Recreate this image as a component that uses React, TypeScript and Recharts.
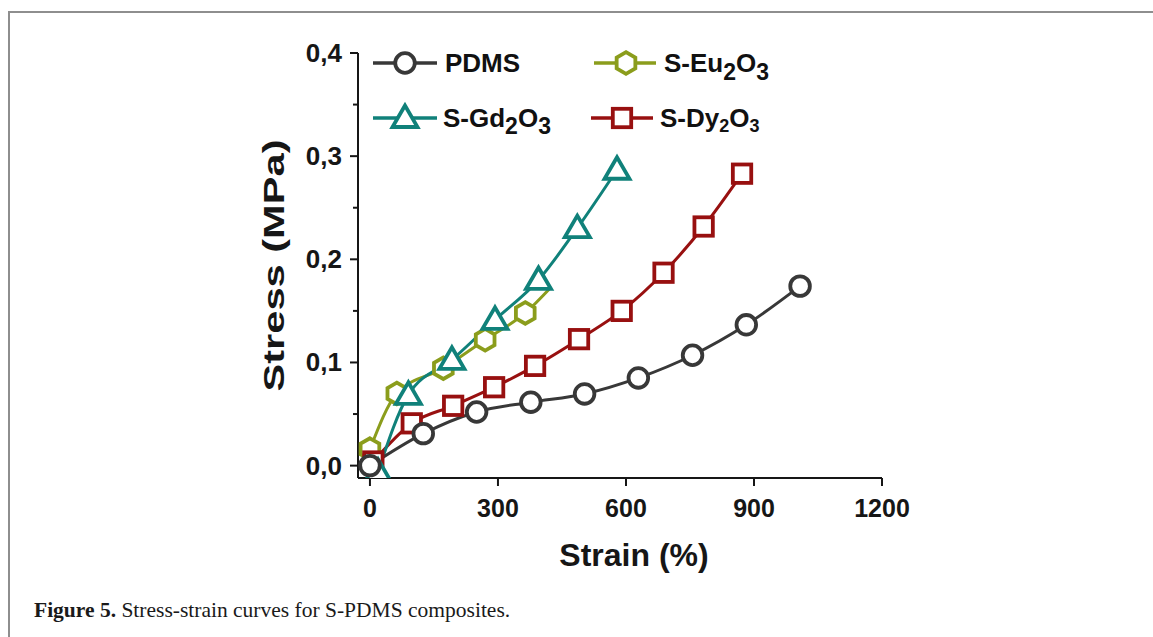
import React from "react";
import { Legend, Line, LineChart, XAxis, YAxis } from "recharts";

// values (strain in %, stress in MPa)
const pdmsStrain = [0, 125, 250, 377, 503, 629, 756, 882, 1008];
const pdmsStress = [0, 0.031, 0.052, 0.0615, 0.0695, 0.085, 0.107, 0.1365, 0.174];

const euStrain = [0, 63, 172, 270, 364, 422];
const euStress = [0.016, 0.07, 0.0945, 0.122, 0.148, 0.172];

const gdStrain = [19, 90, 192, 293, 395, 486, 579];
const gdStress = [-0.006, 0.0686, 0.1025, 0.1413, 0.18, 0.2302, 0.2868];

const dyStrain = [8, 98, 195, 291, 387, 490, 590, 688, 782, 872];
const dyStress = [0.004, 0.041, 0.058, 0.076, 0.0967, 0.1226, 0.15, 0.187, 0.2318, 0.283];

const xTicks = [0, 300, 600, 900, 1200];
const yTicks = [0, 0.05, 0.1, 0.15, 0.2, 0.25, 0.3, 0.35, 0.4];

const FONT = '"Liberation Sans", Arial, Helvetica, sans-serif';
const AXIS = "#161616";

type Shape = "circle" | "hexagon" | "triangle" | "square";
type Part = { t: string; sub?: boolean };

type Series = {
  key: string;
  label: Part[];
  subSize: number;
  subShift: number;
  color: string;
  shape: Shape;
  strain: number[];
  stress: number[];
  hideLast?: boolean;
};

const toPoints = (xs: number[], ys: number[]) => xs.map((x, i) => ({ x, y: ys[i] }));

// draw order: bottom first
const series: Series[] = [
  {
    key: "eu",
    label: [{ t: "S-Eu" }, { t: "2", sub: true }, { t: "O" }, { t: "3", sub: true }],
    subSize: 23,
    subShift: 8,
    color: "#8b9d1c",
    shape: "hexagon",
    strain: euStrain,
    stress: euStress,
    hideLast: true,
  },
  {
    key: "dy",
    label: [{ t: "S-Dy" }, { t: "2", sub: true }, { t: "O" }, { t: "3", sub: true }],
    subSize: 18,
    subShift: 5,
    color: "#981010",
    shape: "square",
    strain: dyStrain,
    stress: dyStress,
  },
  {
    key: "gd",
    label: [{ t: "S-Gd" }, { t: "2", sub: true }, { t: "O" }, { t: "3", sub: true }],
    subSize: 23,
    subShift: 7,
    color: "#10817a",
    shape: "triangle",
    strain: gdStrain,
    stress: gdStress,
  },
  {
    key: "pdms",
    label: [{ t: "PDMS" }],
    subSize: 0,
    subShift: 0,
    color: "#383838",
    shape: "circle",
    strain: pdmsStrain,
    stress: pdmsStress,
  },
];

// legend slots (2 x 2 grid)
const legendSlots: Record<string, { x1: number; x2: number; mx: number; tx: number; y: number }> = {
  pdms: { x1: 373, x2: 437, mx: 405, tx: 445, y: 63 },
  eu: { x1: 594, x2: 656, mx: 626, tx: 664, y: 63 },
  gd: { x1: 373, x2: 437, mx: 405, tx: 443, y: 118 },
  dy: { x1: 591, x2: 653, mx: 622, tx: 660, y: 118 },
};

function Marker({ shape, cx, cy, color }: { shape: Shape; cx: number; cy: number; color: string }) {
  const common = { fill: "#fff", stroke: color, strokeWidth: 3.8, strokeLinejoin: "miter" as const };
  if (shape === "circle") return <circle cx={cx} cy={cy} r={9.8} {...common} />;
  if (shape === "square") return <rect x={cx - 9.2} y={cy - 9.2} width={18.4} height={18.4} {...common} />;
  if (shape === "triangle")
    return <polygon points={`${cx},${cy - 12.5} ${cx - 12.5},${cy + 9} ${cx + 12.5},${cy + 9}`} {...common} />;
  const r = 10.8;
  const pts = [-90, -30, 30, 90, 150, 210]
    .map((a) => `${cx + r * Math.cos((a * Math.PI) / 180)},${cy + r * Math.sin((a * Math.PI) / 180)}`)
    .join(" ");
  return <polygon points={pts} {...common} />;
}

const dotFor = (s: Series) => (props: any) => {
  const { cx, cy, index } = props;
  if (s.hideLast && index === s.strain.length - 1) return <g key={`${s.key}-${index}`} />;
  return (
    <g key={`${s.key}-${index}`}>
      <Marker shape={s.shape} cx={cx} cy={cy} color={s.color} />
    </g>
  );
};

function LegendBox() {
  return (
    <svg width={1153} height={140} style={{ display: "block", fontFamily: FONT }}>
      {series.map((s) => {
        const slot = legendSlots[s.key];
        return (
          <g key={s.key}>
            <line x1={slot.x1} x2={slot.x2} y1={slot.y} y2={slot.y} stroke={s.color} strokeWidth={3.4} />
            <Marker shape={s.shape} cx={slot.mx} cy={slot.y} color={s.color} />
            <text x={slot.tx} y={slot.y + 9} fontSize={26} fontWeight={700} fill="#111">
              {s.label.map((p, i) => {
                const prevSub = i > 0 && s.label[i - 1].sub;
                if (p.sub)
                  return (
                    <tspan key={i} dy={s.subShift} fontSize={s.subSize}>
                      {p.t}
                    </tspan>
                  );
                return (
                  <tspan key={i} dy={prevSub ? -s.subShift : 0}>
                    {p.t}
                  </tspan>
                );
              })}
            </text>
          </g>
        );
      })}
    </svg>
  );
}

function YTick(props: any) {
  const { x, y, payload } = props;
  const axisX = x + 16;
  const v = payload.value as number;
  const major = Math.abs(v * 10 - Math.round(v * 10)) < 1e-6;
  return (
    <g>
      <line x1={axisX - (major ? 8 : 5)} x2={axisX} y1={y} y2={y} stroke={AXIS} strokeWidth={2} />
      {major ? (
        <text x={x} y={y} textAnchor="end" dominantBaseline="central" fontSize={26} fontWeight={700} fill={AXIS}>
          {v.toFixed(1).replace(".", ",")}
        </text>
      ) : null}
    </g>
  );
}

function StressLabel(props: any) {
  const { viewBox } = props;
  const cx = 274;
  const cy = viewBox.y + viewBox.height / 2;
  return (
    <text
      x={cx}
      y={cy}
      transform={`rotate(-90 ${cx} ${cy})`}
      textAnchor="middle"
      dominantBaseline="central"
      fontSize={29}
      fontWeight={700}
      fill={AXIS}
      textLength={252}
      lengthAdjust="spacingAndGlyphs"
    >
      Stress (MPa)
    </text>
  );
}

function StrainLabel(props: any) {
  const { viewBox } = props;
  return (
    <text
      x={viewBox.x + viewBox.width / 2 + 14}
      y={viewBox.y + 88}
      textAnchor="middle"
      fontSize={32}
      fontWeight={700}
      fill={AXIS}
    >
      Strain (%)
    </text>
  );
}

export default function App() {
  return (
    <div style={{ position: "absolute", left: 0, top: 0, width: 1153, height: 637, background: "#fff", overflow: "hidden" }}>
      <div
        style={{
          position: "absolute",
          left: 8,
          top: 11,
          right: -4,
          bottom: -4,
          borderTop: "2px solid #8e8e8e",
          borderLeft: "2px solid #8e8e8e",
        }}
      />
      <div style={{ position: "absolute", left: 0, top: 0 }}>
        <LineChart width={1153} height={637} margin={{ top: 53, right: 271, bottom: 99, left: 0 }} style={{ fontFamily: FONT }}>
          <XAxis
            type="number"
            dataKey="x"
            domain={[-28, 1200]}
            ticks={xTicks}
            allowDataOverflow
            height={60}
            tickSize={8}
            tickMargin={13}
            axisLine={{ stroke: AXIS, strokeWidth: 2 }}
            tickLine={{ stroke: AXIS, strokeWidth: 2 }}
            tick={{ fontSize: 25, fontWeight: 700, fill: AXIS }}
            label={<StrainLabel />}
          />
          <YAxis
            type="number"
            domain={[-0.012, 0.4]}
            ticks={yTicks}
            allowDataOverflow
            width={358}
            tickSize={8}
            tickMargin={8}
            axisLine={{ stroke: AXIS, strokeWidth: 2 }}
            tickLine={false}
            tick={<YTick />}
            label={<StressLabel />}
          />
          <Legend
            layout="vertical"
            align="center"
            verticalAlign="middle"
            content={() => <LegendBox />}
            wrapperStyle={{ left: 0, top: 0, width: 1153, height: 140 }}
          />
          {series.map((s) => (
            <Line
              key={s.key}
              data={toPoints(s.strain, s.stress)}
              dataKey="y"
              type="monotone"
              stroke={s.color}
              strokeWidth={3}
              dot={dotFor(s)}
              activeDot={false}
              isAnimationActive={false}
              legendType="none"
            />
          ))}
        </LineChart>
      </div>
      <div
        style={{
          position: "absolute",
          left: 34,
          top: 600,
          fontFamily: '"Liberation Serif", "Times New Roman", serif',
          fontSize: 21.5,
          lineHeight: "21px",
          color: "#1a1a1a",
          whiteSpace: "nowrap",
        }}
      >
        <b>Figure 5.</b> Stress-strain curves for S-PDMS composites.
      </div>
    </div>
  );
}
